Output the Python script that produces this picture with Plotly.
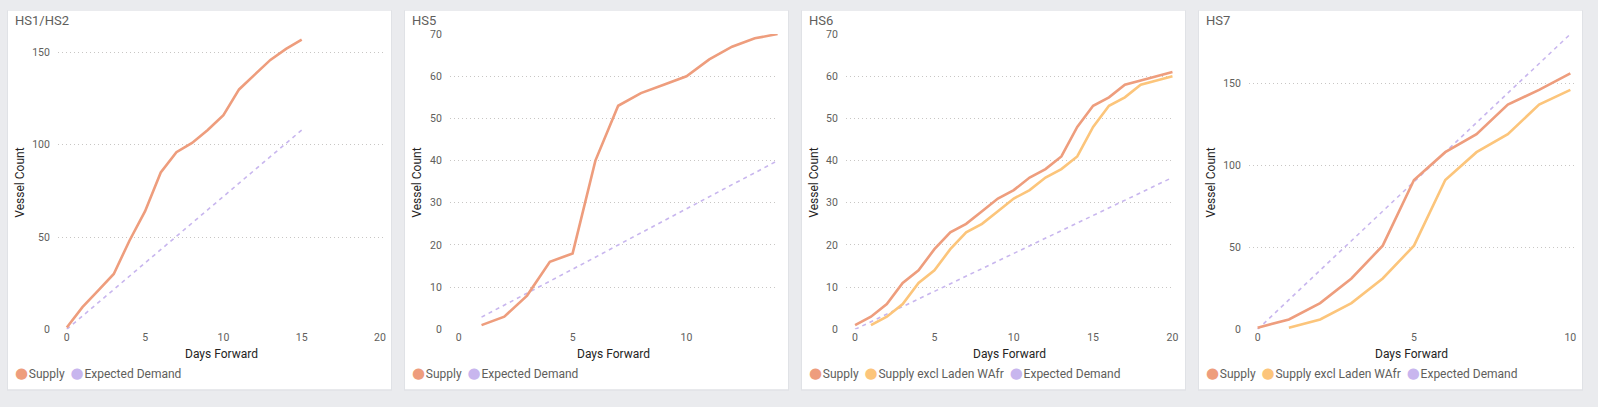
import plotly.graph_objects as go

W, H = 1598, 407

# ---- data ----
hs12_days = list(range(0, 16))
hs12_supply = [1, 12, 21, 30, 48, 64, 85, 96, 101, 108, 116, 130, 138, 146, 152, 157]
hs12_demand = [0, 7.2, 14.4, 21.6, 28.8, 36, 43.2, 50.4, 57.6, 64.8, 72, 79.2, 86.4, 93.6, 100.8, 108]

hs5_days = list(range(1, 15))
hs5_supply = [1, 3, 8, 16, 18, 40, 53, 56, 58, 60, 64, 67, 69, 70]
hs5_demand = [2.9, 5.7, 8.6, 11.4, 14.3, 17.1, 20, 22.9, 25.7, 28.6, 31.4, 34.3, 37.1, 40]

hs6_days = list(range(0, 21))
hs6_supply = [1, 3, 6, 11, 14, 19, 23, 25, 28, 31, 33, 36, 38, 41, 48, 53, 55, 58, 59, 60, 61]
hs6_excl_days = list(range(1, 21))
hs6_excl = [1, 3, 6, 11, 14, 19, 23, 25, 28, 31, 33, 36, 38, 41, 48, 53, 55, 58, 59, 60]
hs6_demand = [0, 1.8, 3.6, 5.4, 7.2, 9, 10.8, 12.6, 14.4, 16.2, 18, 19.8, 21.6, 23.4,
              25.2, 27, 28.8, 30.6, 32.4, 34.2, 36]

hs7_days = list(range(0, 11))
hs7_supply = [1, 6, 16, 31, 51, 91, 108, 119, 137, 146, 156]
hs7_excl_days = list(range(1, 11))
hs7_excl = [1, 6, 16, 31, 51, 91, 108, 119, 137, 146]
hs7_demand = [0, 18, 36, 54, 72, 90, 108, 126, 144, 162, 180]

titles = ["HS1/HS2", "HS5", "HS6", "HS7"]

C_SUPPLY = "#EE9D7D"
C_EXCL = "#FCC57B"
C_DEMAND = "#C8B6EE"
FONT = "Roboto"

# card layout in pixels
card_left = [8, 406, 804, 1202]
card_w = 384
card_top, card_bot = 5, 396
plot_x = [(58, 386), (451, 780), (848, 1177), (1252, 1579)]
plot_top, plot_bot = 29, 334
x_ranges = [[-0.57, 20.32], [-0.39, 14.02], [-0.58, 20.1], [-0.28, 10.15]]
y_ranges = [[0, 160], [0, 70], [0, 70], [0, 180]]
x_ticks = [[0, 5, 10, 15, 20], [0, 5, 10], [0, 5, 10, 15, 20], [0, 5, 10]]
y_ticks = [[0, 50, 100, 150], [0, 10, 20, 30, 40, 50, 60, 70],
           [0, 10, 20, 30, 40, 50, 60, 70], [0, 50, 100, 150]]


def px(x):
    return x / W


def py(y):
    return 1 - y / H


panels = [
    [("Supply", hs12_days, hs12_supply, C_SUPPLY, "solid"),
     ("Expected Demand", hs12_days, hs12_demand, C_DEMAND, "dash")],
    [("Supply", hs5_days, hs5_supply, C_SUPPLY, "solid"),
     ("Expected Demand", hs5_days, hs5_demand, C_DEMAND, "dash")],
    [("Supply", hs6_days, hs6_supply, C_SUPPLY, "solid"),
     ("Supply excl Laden WAfr", hs6_excl_days, hs6_excl, C_EXCL, "solid"),
     ("Expected Demand", hs6_days, hs6_demand, C_DEMAND, "dash")],
    [("Supply", hs7_days, hs7_supply, C_SUPPLY, "solid"),
     ("Supply excl Laden WAfr", hs7_excl_days, hs7_excl, C_EXCL, "solid"),
     ("Expected Demand", hs7_days, hs7_demand, C_DEMAND, "dash")],
]

fig = go.Figure()
shapes = []
annotations = []
layout_axes = {}

for i, series in enumerate(panels):
    n = "" if i == 0 else str(i + 1)
    xa, ya = "x" + n, "y" + n

    # draw demand first so supply sits on top
    for name, xs, ys, col, style in sorted(series, key=lambda s: s[4] != "dash"):
        if style == "dash":
            line = dict(color=col, width=1.6, dash="4px,4px")
        else:
            line = dict(color=col, width=2.6)
        fig.add_trace(go.Scatter(x=xs, y=ys, mode="lines", name=name, line=line,
                                 xaxis=xa, yaxis=ya, showlegend=False))

    layout_axes["xaxis" + n] = dict(
        domain=[px(plot_x[i][0]), px(plot_x[i][1])], anchor=ya,
        range=x_ranges[i], tickvals=x_ticks[i], showgrid=False, zeroline=False,
        showline=False, ticks="", tickfont=dict(size=10.5, color="#605E5C", family=FONT),
    )
    layout_axes["yaxis" + n] = dict(
        domain=[py(plot_bot), py(plot_top)], anchor=xa,
        range=y_ranges[i], tickvals=y_ticks[i], showgrid=True, gridcolor="#C8C6C4",
        griddash="1px,3px", gridwidth=1, zeroline=False, showline=False, ticks="",
        ticklabelstandoff=7, tickfont=dict(size=10.5, color="#605E5C", family=FONT),
    )

    left = card_left[i]
    # soft shadow + card
    shapes.append(dict(type="rect", xref="paper", yref="paper",
                       x0=px(left - 1), x1=px(left + card_w + 1),
                       y0=py(card_bot + 1.5), y1=py(card_top - 0.5),
                       fillcolor="#E0E2E6", line=dict(width=0), layer="below"))
    shapes.append(dict(type="rect", xref="paper", yref="paper",
                       x0=px(left), x1=px(left + card_w),
                       y0=py(card_bot), y1=py(card_top),
                       fillcolor="white", line=dict(width=0), layer="below"))

    annotations.append(dict(text=titles[i], xref="paper", yref="paper",
                            x=px(left + 5), y=py(15), xanchor="left", yanchor="middle",
                            showarrow=False, font=dict(size=13, color="#605E5C", family=FONT)))
    annotations.append(dict(text="Vessel Count", xref="paper", yref="paper",
                            x=px(left + 12.5), y=py(182), textangle=-90,
                            xanchor="center", yanchor="middle", showarrow=False,
                            font=dict(size=12, color="#252423", family=FONT)))
    annotations.append(dict(text="Days Forward", xref="paper", yref="paper",
                            x=px((plot_x[i][0] + plot_x[i][1]) / 2), y=py(359),
                            xanchor="center", yanchor="middle", showarrow=False,
                            font=dict(size=12, color="#252423", family=FONT)))

    legend_parts = []
    for name, xs, ys, col, style in series:
        legend_parts.append(
            f"<span style='color:{col};font-size:15px;font-family:DejaVu Sans'>●</span>"
            f"<span style='font-size:3px'>&nbsp;</span>{name}")
    annotations.append(dict(text="&nbsp;&nbsp;".join(legend_parts), xref="paper", yref="paper",
                            x=px(left + 5), y=py(379), xanchor="left", yanchor="middle",
                            showarrow=False, font=dict(size=12, color="#605E5C", family=FONT)))

fig.update_layout(
    width=W, height=H,
    margin=dict(l=0, r=0, t=0, b=0),
    paper_bgcolor="#EAEBEE",
    plot_bgcolor="rgba(0,0,0,0)",
    showlegend=False,
    shapes=shapes,
    annotations=annotations,
    **layout_axes,
)

fig.write_html(
    "out.html",
    config={"displayModeBar": False},
    post_script="document.body.style.margin='0';document.body.style.overflow='hidden';",
)
